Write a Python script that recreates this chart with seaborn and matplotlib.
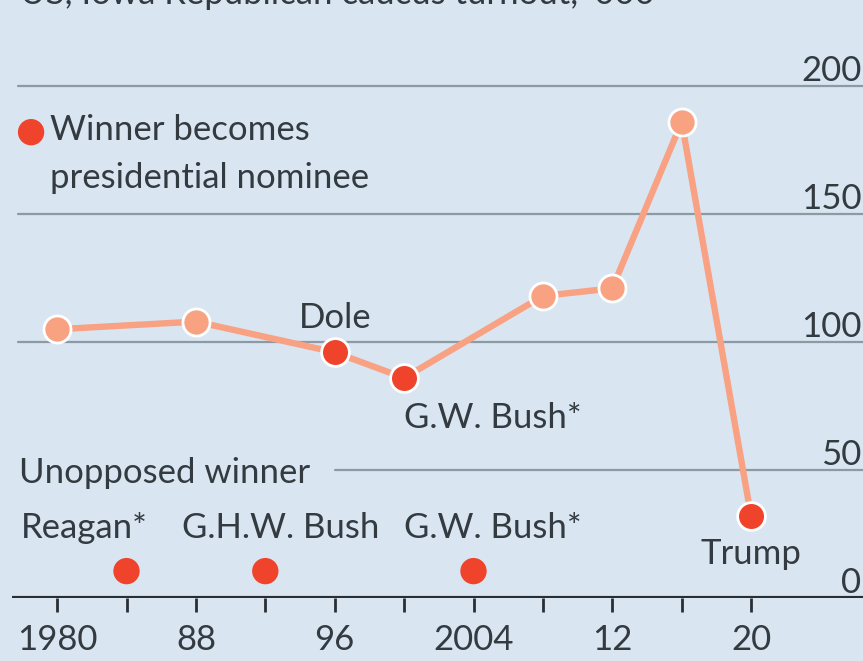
import matplotlib
matplotlib.use("Agg")
import matplotlib.pyplot as plt
import matplotlib.transforms as mtransforms
import numpy as np
import pandas as pd
import seaborn as sns

# Iowa Republican caucus turnout, thousands
years = [1980, 1988, 1996, 2000, 2008, 2012, 2016, 2020]
turnout = [105, 108, 96, 86, 118, 121, 186, 32]
became_nominee = [False, False, True, True, False, False, False, True]

# Years with an unopposed winner
unopposed_years = [1984, 1992, 2004]
unopposed_names = ["Reagan*", "G.H.W. Bush", "G.W. Bush*"]

tick_years = list(range(1980, 2021, 4))
tick_labels = ["1980", "", "88", "", "96", "", "2004", "", "12", "", "20"]
y_ticks = [50, 100, 150, 200]

BG = "#d9e6f2"
LINE = "#f9a183"
LIGHT = "#f8a282"
DARK = "#f0432b"
TEXT = "#333a40"
GRID = "#8c9aa6"

sns.set_theme(style="white")
plt.rcParams["font.family"] = ["Lato", "DejaVu Sans"]

df = pd.DataFrame({"year": years, "turnout": turnout, "nominee": became_nominee})
unopp = pd.DataFrame({"year": unopposed_years, "level": [10.5] * len(unopposed_years)})

fig = plt.figure(figsize=(8.63, 6.61), dpi=100, facecolor=BG)
ax = fig.add_axes([12 / 863, 63 / 661, 851 / 863, 538 / 661])
ax.set_facecolor(BG)
ax.set_xlim(1977.4, 2026.45)
ax.set_ylim(0, 210.2)

for s in ax.spines.values():
    s.set_visible(False)

fs = 25

# horizontal gridlines
for v in y_ticks:
    xmin = 0.38 if v == 50 else 0.007
    ax.axhline(v, xmin=xmin, xmax=1, color=GRID, lw=1.6, zorder=1)
ax.axhline(0, color="#2a2e33", lw=3, zorder=2)

# right-side value labels sitting above the gridlines
trans = mtransforms.blended_transform_factory(ax.transAxes, ax.transData)
for v in [0] + y_ticks:
    ax.text(0.998, v - 0.5, str(v), transform=trans, ha="right", va="bottom",
            fontsize=fs, color=TEXT)

sns.lineplot(data=df, x="year", y="turnout", ax=ax, color=LINE, lw=4.6,
             zorder=3, legend=False)
sns.scatterplot(data=df[~df["nominee"]], x="year", y="turnout", ax=ax,
                color=LIGHT, s=380, edgecolor="white", linewidth=2, zorder=4)
sns.scatterplot(data=df[df["nominee"]], x="year", y="turnout", ax=ax,
                color=DARK, s=400, edgecolor="white", linewidth=2, zorder=5)
sns.scatterplot(data=unopp, x="year", y="level", ax=ax,
                color=DARK, s=360, edgecolor="none", zorder=5)

ax.set_xticks(tick_years)
ax.set_xticklabels(tick_labels)
ax.tick_params(axis="x", direction="out", length=10, width=2, color="#2a2e33",
               labelsize=fs, labelcolor=TEXT, pad=9, bottom=True)
ax.set_yticks([])
ax.set_xlabel("")
ax.set_ylabel("")

# annotations
ax.text(1996, 103, "Dole", ha="center", va="bottom", fontsize=fs, color=TEXT)
ax.text(2000, 76.5, "G.W. Bush*", ha="left", va="top", fontsize=fs, color=TEXT)
ax.text(2020, 23.5, "Trump", ha="center", va="top", fontsize=fs, color=TEXT)

ax.text(0.008, 49, "Unopposed winner", transform=trans, ha="left",
        va="center", fontsize=fs, color=TEXT)
name_x = [1977.9, 1987.2, 2000.0]
for nx, name in zip(name_x, unopposed_names):
    ax.text(nx, 27.5, name, ha="left", va="center", fontsize=fs, color=TEXT)

# legend
ax.scatter([1978.5], [182], s=360, color=DARK, edgecolor="none", zorder=5)
ax.text(1979.6, 189, "Winner becomes\npresidential nominee", ha="left",
        va="top", fontsize=fs, color=TEXT, linespacing=1.6)

fig.text(20 / 863, 1 - 4 / 661, "US, Iowa Republican caucus turnout, '000",
         ha="left", va="baseline", fontsize=fs, color=TEXT)

fig.savefig("out.png", dpi=100, facecolor=BG)
